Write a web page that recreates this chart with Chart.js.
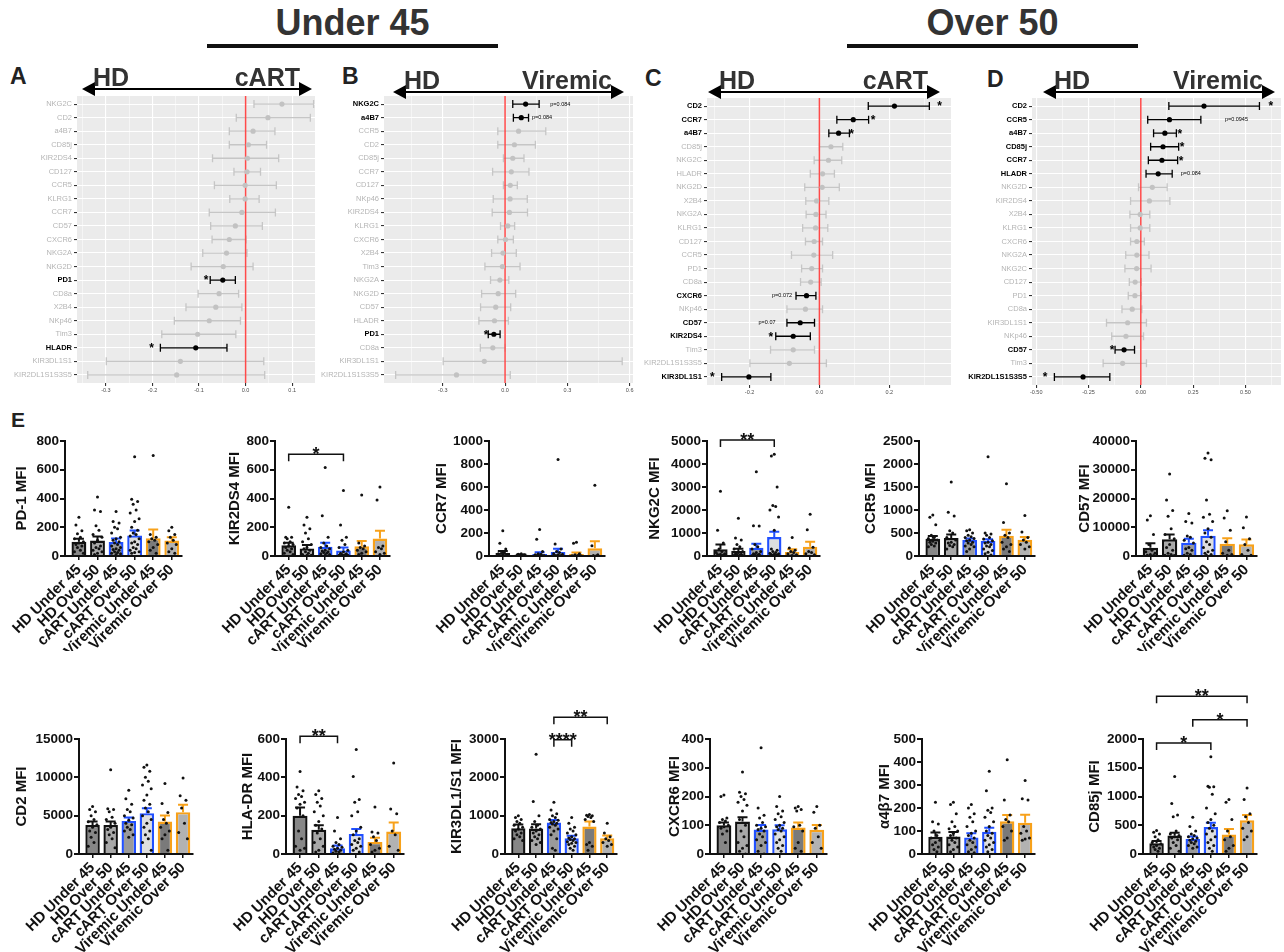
<!DOCTYPE html>
<html>
<head>
<meta charset="utf-8">
<script src="https://cdn.jsdelivr.net/npm/chart.js@4.4.1/dist/chart.umd.min.js"></script>
<style>
  body { margin: 0; background: #fff; font-family: "Liberation Sans", Arial, sans-serif; }
  #page { position: relative; width: 1284px; height: 952px; overflow: hidden; background: #fff; }
  .hdr { position: absolute; top: 2px; height: 42px; line-height: 42px; text-align: center;
         font-size: 36px; font-weight: bold; color: #333; border-bottom: 4px solid #111; }
  .lt { position: absolute; font-weight: bold; color: #222; font-size: 23px; line-height: 1; }
  canvas { position: absolute; }
</style>
</head>
<body>
<div id="page">
  <div class="hdr" style="left:207px;width:291px">Under 45</div>
  <div class="hdr" style="left:847px;width:291px">Over 50</div>
  <div class="lt" style="left:10px;top:65px">A</div>
  <div class="lt" style="left:342px;top:65px">B</div>
  <div class="lt" style="left:645px;top:67px">C</div>
  <div class="lt" style="left:987px;top:68px">D</div>
  <div class="lt" style="left:11px;top:409px;font-size:21px">E</div>
</div>
<script>
// ---- forest plots (A-D): estimate, lower, upper, annotations [row, text, x]
const aNames = ['NKG2C','CD2','a4B7','CD85j','KIR2DS4','CD127','CCR5','KLRG1','CCR7','CD57','CXCR6','NKG2A','NKG2D','PD1','CD8a','X2B4','NKp46','Tim3','HLADR','KIR3DL1S1','KIR2DL1S1S3S5'];
const aEst = [0.078,0.048,0.016,0.006,0.004,0.003,-0.001,-0.001,-0.008,-0.022,-0.035,-0.041,-0.048,-0.049,-0.057,-0.064,-0.078,-0.103,-0.107,-0.14,-0.148];
const aLo = [0.018,-0.02,-0.035,-0.035,-0.071,-0.025,-0.067,-0.034,-0.078,-0.075,-0.072,-0.092,-0.117,-0.076,-0.102,-0.128,-0.153,-0.18,-0.183,-0.299,-0.339];
const aHi = [0.146,0.139,0.063,0.045,0.071,0.032,0.066,0.029,0.064,0.036,0.001,0.003,0.016,-0.022,-0.015,-0.008,-0.011,-0.021,-0.04,0.039,0.041];
const aNotes = [[13,'*',-0.085],[18,'*',-0.202]];

const bNames = ['NKG2C','a4B7','CCR5','CD2','CD85j','CCR7','CD127','NKp46','KIR2DS4','KLRG1','CXCR6','X2B4','Tim3','NKG2A','NKG2D','CD57','HLADR','PD1','CD8a','KIR3DL1S1','KIR2DL1S1S3S5'];
const bEst = [0.099,0.078,0.065,0.045,0.037,0.03,0.025,0.024,0.021,0.013,0.002,-0.01,-0.013,-0.025,-0.033,-0.045,-0.051,-0.054,-0.059,-0.1,-0.234];
const bLo = [0.037,0.04,-0.035,-0.035,-0.008,-0.06,-0.008,-0.057,-0.062,-0.022,-0.035,-0.065,-0.097,-0.07,-0.113,-0.118,-0.126,-0.081,-0.119,-0.298,-0.527];
const bHi = [0.164,0.113,0.196,0.146,0.091,0.115,0.059,0.107,0.108,0.046,0.04,0.054,0.072,0.018,0.051,0.027,0.016,-0.024,0.0,0.564,0.025];
const bNotes = [[0,'p=0.084',0.266],[1,'p=0.084',0.178],[17,'*',-0.092]];

const cNames = ['CD2','CCR7','a4B7','CD85j','NKG2C','HLADR','NKG2D','X2B4','NKG2A','KLRG1','CD127','CCR5','PD1','CD8a','CXCR6','NKp46','CD57','KIR2DS4','Tim3','KIR2DL1S1S3S5','KIR3DL1S1'];
const cEst = [0.215,0.097,0.055,0.033,0.026,0.009,0.008,-0.008,-0.01,-0.011,-0.015,-0.016,-0.022,-0.025,-0.037,-0.04,-0.055,-0.075,-0.075,-0.086,-0.202];
const cLo = [0.14,0.05,0.027,0.0,-0.015,-0.026,-0.042,-0.039,-0.038,-0.048,-0.04,-0.08,-0.051,-0.054,-0.067,-0.093,-0.093,-0.125,-0.14,-0.199,-0.28];
const cHi = [0.315,0.141,0.086,0.067,0.064,0.043,0.057,0.027,0.019,0.024,0.009,0.038,0.009,0.005,-0.01,0.009,-0.014,-0.026,-0.014,0.02,-0.139];
const cNotes = [[0,'*',0.344],[1,'*',0.154],[2,'*',0.092],[14,'p=0.072',-0.107],[16,'p=0.07',-0.15],[17,'*',-0.139],[20,'*',-0.307]];

const dNames = ['CD2','CCR5','a4B7','CD85j','CCR7','HLADR','NKG2D','KIR2DS4','X2B4','KLRG1','CXCR6','NKG2A','NKG2C','CD127','PD1','CD8a','KIR3DL1S1','NKp46','CD57','Tim3','KIR2DL1S1S3S5'];
const dEst = [0.302,0.137,0.115,0.106,0.101,0.083,0.055,0.041,-0.003,-0.003,-0.019,-0.019,-0.02,-0.027,-0.028,-0.041,-0.063,-0.071,-0.08,-0.087,-0.276];
const dLo = [0.134,0.033,0.061,0.047,0.036,0.025,-0.011,-0.049,-0.052,-0.049,-0.049,-0.072,-0.076,-0.055,-0.06,-0.09,-0.164,-0.139,-0.123,-0.18,-0.413];
const dHi = [0.567,0.287,0.17,0.181,0.176,0.15,0.126,0.139,0.043,0.043,0.017,0.039,0.049,0.002,0.003,0.005,0.027,0.013,-0.03,0.027,-0.148];
const dNotes = [[0,'*',0.622],[1,'p=0.0945',0.457],[2,'*',0.186],[3,'*',0.197],[4,'*',0.192],[5,'p=0.084',0.239],[18,'*',-0.137],[20,'*',-0.457]];

// ---- panel E: mean, SEM, individual donors, brackets [from, to, height, label]
const groups = ['HD Under 45','HD Over 50','cART Under 45','cART Over 50','Viremic Under 45','Viremic Over 50'];

const pd1Mean = [100, 108, 97, 143, 124, 108];
const pd1Sem = [20, 28, 25, 34, 60, 23];
const pd1Dots = [
  [270,215,175,155,130,120,100,90,80,70,60,40,30,20],
  [410,320,310,210,180,150,130,110,90,70,60,50,40,30,20,10],
  [310,240,230,200,190,160,130,120,110,100,90,80,70,60,50,45,40,30,25,20,15,10],
  [690,395,380,360,320,300,260,240,200,180,160,150,140,120,100,90,80,60,50,40,30,25,20],
  [700,150,130,120,110,100,80,60,40,20],
  [200,175,150,130,110,90,80,50,30,20]
];

const kirdsMean = [74, 53, 65, 39, 67, 121];
const kirdsSem = [19, 24, 28, 21, 37, 55];
const kirdsDots = [
  [340,130,130,120,100,90,80,70,60,50,40,30,20,10],
  [270,215,190,160,120,100,80,60,50,40,30,20,10,5,5],
  [615,280,130,90,70,60,50,40,35,30,25,20,15,10,5],
  [455,215,130,110,80,60,40,30,20,15,10,8,5,5,3,2],
  [425,90,70,60,50,40,30,20,10],
  [480,390,70,60,50,30,20,10]
];
const kirdsSig = [[0, 3, 708, '*']];

const ccr7Mean = [26, 10, 17, 35, 17, 67];
const ccr7Sem = [18, 4, 15, 28, 13, 62];
const ccr7Dots = [
  [220,110,60,40,30,20,15,10,5,5,3,2],
  [20,15,10,8,5,5,3,2,1],
  [230,145,40,20,15,10,5,3,2,1],
  [840,105,60,40,30,20,15,10,5,5,3,2],
  [120,110,20,10,5,3,2],
  [615,90,10,5,2]
];

const nkg2cMean = [290, 217, 362, 826, 174, 406];
const nkg2cSem = [210, 100, 175, 230, 115, 215];
const nkg2cDots = [
  [2820,1120,560,300,200,150,100,80,60,40,20],
  [1640,780,700,500,400,300,200,150,100,80,60,40,20,10],
  [3660,1320,1300,500,400,300,200,150,100,80,60,40,20],
  [4420,4350,3000,2200,2150,2000,1700,1120,300,250,200,150,120,100,80,60,40,30,20,10],
  [800,350,250,200,150,100,50,20],
  [1820,1140,380,200,150,100,50]
];
const nkg2cSig = [[0, 3, 5040, '**']];

const ccr5Mean = [377, 391, 348, 326, 442, 355];
const ccr5Sem = [60, 75, 30, 40, 130, 60];
const ccr5Dots = [
  [890,840,680,450,400,380,350,320,300,280,250,220,200],
  [1610,950,870,550,500,400,350,300,280,250,230,200,150],
  [570,550,500,450,420,400,380,350,330,300,280,250,220,200,150,100],
  [2160,500,480,450,400,370,330,300,280,250,220,200,150,120,80,50,20],
  [1570,730,500,450,400,300,250,200,150,100],
  [880,520,400,350,300,250,200,150]
];

const cd57Mean = [2900, 5800, 4640, 7070, 4290, 4060];
const cd57Sem = [1500, 1700, 1400, 1850, 1850, 1700];
const cd57Dots = [
  [14000,12500,7500,4000,2000,1500,1000,500,300,200],
  [28500,19500,15800,13800,9500,7500,6000,4000,3000,2000,1000,500,300,200],
  [14800,12000,11500,7000,6500,5500,4500,3000,2500,2000,1000,500,300],
  [35800,34000,33500,19500,14500,13500,12000,9500,8000,6500,5000,4000,3000,2000,1500,1000,500,300],
  [15700,13200,9000,5000,2000,1000,500,300],
  [13600,9800,6000,4000,2000,500,300]
];

const cd2Mean = [3790, 3790, 4320, 5320, 4230, 5450];
const cd2Sem = [440, 440, 430, 650, 790, 960];
const cd2Dots = [
  [6200,5800,5500,5000,4500,4200,3800,3500,3000,2800,2200,1500,1000],
  [11000,5900,5800,5500,4800,4500,4000,3500,3200,2800,2500,2000,1500,800],
  [8300,7200,6500,5800,5500,5000,4700,4400,4000,3800,3500,3200,3000,2500,2200],
  [11600,11300,10800,10000,9500,9000,8500,7700,7000,6500,6000,5500,5000,4500,4000,3500,3000,2500,2000,1500,500],
  [9200,6600,5400,4500,4000,3500,3000,2500,2000,500],
  [9900,7600,7000,6000,4000,2800,2000]
];

const hladrMean = [200, 126, 30, 105, 63, 117];
const hladrSem = [42, 24, 14, 26, 22, 47];
const hladrDots = [
  [430,350,330,310,300,290,270,260,240,200,120,80,40,30,20],
  [330,310,290,270,250,220,200,170,150,130,110,80,60,40,20,10],
  [190,120,80,60,50,40,35,30,25,20,15,10,5],
  [545,405,285,270,220,200,140,120,100,80,70,60,50,40,30,20,10],
  [245,115,110,90,70,50,30,20,10],
  [475,235,210,120,100,40,20]
];
const hladrSig = [[0, 2, 614, '**']];

const kir3Mean = [671, 663, 820, 410, 715, 410];
const kir3Sem = [100, 110, 70, 65, 130, 75];
const kir3Dots = [
  [1000,950,900,850,800,750,700,650,600,550,500,450,400,350],
  [2600,1370,1000,850,750,700,650,600,550,500,450,400,350,300,250],
  [1350,1150,1050,1000,950,900,880,850,820,800,780,750,700,650,600,500,400,150,100],
  [950,800,700,650,600,550,500,450,420,400,380,350,320,300,280,250,200,150,100],
  [1030,1010,1000,980,950,900,850,300,250,200,100],
  [800,550,450,400,350,300,250,200]
];
const kir3Sig = [[2, 3, 2980, '****'], [2, 5, 3570, '**']];

const cxcr6Mean = [100, 113, 85, 86, 92, 84];
const cxcr6Sem = [10, 15, 16, 14, 18, 17];
const cxcr6Dots = [
  [205,200,125,120,115,110,100,95,90,80,70,40],
  [285,215,210,200,190,180,170,150,120,100,80,60,40,30,20,10,0],
  [370,160,135,125,110,100,95,90,85,80,70,60,50,40,30,10,0],
  [200,165,150,140,130,120,110,100,95,90,85,80,70,60,50,40,30,20,10],
  [165,160,155,150,100,95,80,40,20,10],
  [165,145,100,90,60,40,20]
];

const a4b7Mean = [75, 76, 72, 97, 142, 136];
const a4b7Sem = [18, 20, 18, 17, 28, 35];
const a4b7Dots = [
  [225,140,130,100,80,70,60,50,40,30,20,10],
  [225,215,175,140,120,110,100,90,80,70,60,50,40,30,20,10],
  [215,200,175,160,140,120,100,90,80,70,60,50,40,30,20,10,5],
  [360,275,200,190,180,160,140,120,100,90,80,70,60,50,40,30,20,10],
  [410,235,170,150,140,120,100,70,60],
  [320,240,235,120,100,90,70,65,60]
];

const cd85jMean = [187, 322, 263, 468, 339, 585];
const cd85jSem = [40, 46, 40, 76, 94, 93];
const cd85jDots = [
  [410,380,350,300,250,200,180,150,120,100,80,50],
  [1350,880,680,650,400,350,320,300,280,250,200,150,100,50],
  [640,480,400,350,320,300,280,260,240,220,200,180,150,120,100],
  [1690,1180,1170,1160,1040,800,700,600,550,500,450,400,350,300,250,200,150,100,50],
  [950,900,600,400,300,250,150,100,50],
  [1150,950,700,650,550,450,400,300,250]
];
const cd85jSig = [[0, 3, 1930, '*'], [2, 5, 2333, '*'], [0, 5, 2743, '**']];

// ---- styling
const FONT = "'Liberation Sans', Arial, sans-serif";
Chart.defaults.font.family = FONT;
const barFill = ['#878787', '#a8a8a8', '#9a9a9a', '#dedede', '#7a7a7a', '#b2b2b2'];
const barEdge = ['#111111', '#111111', '#2150ff', '#2150ff', '#f7a11a', '#f7a11a'];
const spread = [0, -0.16, 0.16, -0.08, 0.08, -0.24, 0.24];

function addCanvas(left, top, w, h) {
  const c = document.createElement('canvas');
  c.width = w; c.height = h;
  c.style.left = left + 'px'; c.style.top = top + 'px';
  c.style.width = w + 'px'; c.style.height = h + 'px';
  document.getElementById('page').appendChild(c);
  return c.getContext('2d');
}

function forestChart(p) {
  const n = p.names.length;
  const cl = p.left - 75, ct = p.top - 40;
  const ctx = addCanvas(cl, ct, 75 + (p.right - p.left) + 2, 40 + (p.bottom - p.top) + 16);
  const sigRows = p.notes.map(d => d[0]);
  const isSig = i => sigRows.includes(i);
  const isMajor = v => Math.abs(v / p.major - Math.round(v / p.major)) < 1e-6;
  const ticksX = [];
  for (let k = Math.ceil(p.min / p.minor - 1e-9); k * p.minor <= p.max + 1e-9; k++) ticksX.push(+(k * p.minor).toFixed(6));

  const deco = {
    id: 'deco',
    beforeDraw(chart) {
      const a = chart.chartArea, c = chart.ctx;
      c.save(); c.fillStyle = '#ebebeb'; c.fillRect(a.left, a.top, a.width, a.height); c.restore();
    },
    beforeDatasetsDraw(chart) {
      const c = chart.ctx, x = chart.scales.x, y = chart.scales.y, a = chart.chartArea;
      c.save();
      c.lineWidth = 1.3;
      p.est.forEach((v, i) => {
        const yy = y.getPixelForValue(i);
        const x1 = x.getPixelForValue(p.lo[i]), x2 = x.getPixelForValue(p.hi[i]);
        c.strokeStyle = isSig(i) ? '#000' : '#c6c6c6';
        c.beginPath();
        c.moveTo(x1, yy); c.lineTo(x2, yy);
        c.moveTo(x1, yy - 4); c.lineTo(x1, yy + 4);
        c.moveTo(x2, yy - 4); c.lineTo(x2, yy + 4);
        c.stroke();
      });
      const x0 = x.getPixelForValue(0);
      c.strokeStyle = '#ff4a4a'; c.lineWidth = 1.5;
      c.beginPath(); c.moveTo(x0, a.top); c.lineTo(x0, a.bottom); c.stroke();
      c.restore();
    },
    afterDraw(chart) {
      const c = chart.ctx, x = chart.scales.x, y = chart.scales.y;
      c.save();
      c.fillStyle = '#000'; c.textAlign = 'center'; c.textBaseline = 'middle';
      p.notes.forEach(([row, txt, xv]) => {
        const star = txt.startsWith('*');
        c.font = star ? 'bold 12px ' + FONT : '5.5px ' + FONT;
        c.fillText(txt, x.getPixelForValue(xv), y.getPixelForValue(row) + (star ? 1 : 0));
      });
      // direction arrow with group names
      const yA = p.arrowY - ct, xl = p.arrowL - cl, xr = p.arrowR - cl;
      c.strokeStyle = '#000'; c.lineWidth = 2;
      c.beginPath(); c.moveTo(xl + 10, yA); c.lineTo(xr - 10, yA); c.stroke();
      c.beginPath();
      c.moveTo(xl, yA); c.lineTo(xl + 13, yA - 7); c.lineTo(xl + 13, yA + 7); c.closePath();
      c.moveTo(xr, yA); c.lineTo(xr - 13, yA - 7); c.lineTo(xr - 13, yA + 7); c.closePath();
      c.fill();
      c.fillStyle = '#333'; c.font = 'bold 25px ' + FONT; c.textBaseline = 'alphabetic';
      c.textAlign = 'left'; c.fillText(p.leftText, xl + 11, yA - 3);
      c.textAlign = 'right'; c.fillText(p.rightText, xr - 12, yA - 3);
      c.restore();
    }
  };

  new Chart(ctx, {
    type: 'scatter',
    data: {
      datasets: [{
        data: p.est.map((v, i) => ({ x: v, y: i })),
        pointRadius: 2.6,
        pointBorderWidth: 0,
        pointBackgroundColor: p.est.map((v, i) => isSig(i) ? '#000' : '#c2c2c2')
      }]
    },
    options: {
      responsive: false, animation: false,
      layout: { padding: { top: 40, right: 2, left: 0, bottom: 0 } },
      plugins: { legend: { display: false }, tooltip: { enabled: false } },
      scales: {
        x: {
          type: 'linear', min: p.min, max: p.max,
          afterBuildTicks: s => { s.ticks = ticksX.map(v => ({ value: v })); },
          afterFit: s => { s.height = 16; },
          border: { display: false },
          grid: {
            color: '#fff', tickLength: 3,
            lineWidth: c => isMajor(c.tick.value) ? 1.1 : 0.5,
            tickColor: c => isMajor(c.tick.value) ? '#333' : 'rgba(0,0,0,0)'
          },
          ticks: {
            autoSkip: false, maxRotation: 0, padding: 1, color: '#4d4d4d',
            font: { size: 5.5 },
            callback: v => isMajor(v) ? v.toFixed(p.dec) : ''
          }
        },
        y: {
          type: 'linear', reverse: true, min: -0.6, max: n - 0.4,
          afterBuildTicks: s => { s.ticks = p.names.map((_, i) => ({ value: i })); },
          afterFit: s => { s.width = 75; },
          border: { display: false },
          grid: { color: '#fff', lineWidth: 1.1, tickColor: '#333', tickLength: 3 },
          ticks: {
            autoSkip: false, padding: 2,
            callback: (v, i) => p.names[i],
            color: c => isSig(c.index) ? '#000' : '#b5b5b5',
            font: c => ({ size: 7.5, weight: isSig(c.index) ? 'bold' : 'normal' })
          }
        }
      }
    },
    plugins: [deco]
  });
}

function dotPoints(dots) {
  const out = [];
  dots.forEach((vals, g) => {
    vals.slice().sort((a, b) => b - a).forEach((v, k) => out.push({ x: g + spread[k % spread.length], y: v }));
  });
  return out;
}

function barPanel(p) {
  const [ax, ae, yt, y0] = p.box;
  const cl = ax - 75, ct = yt - 65;
  const bottom = p.bottom;
  const ctx = addCanvas(cl, ct, 75 + (ae - ax) + 10, bottom - ct);

  const deco = {
    id: 'deco',
    afterDatasetDraw(chart, args) {
      if (args.index !== 0) return;
      const c = chart.ctx, y = chart.scales.y;
      c.save(); c.lineWidth = 2;
      chart.getDatasetMeta(0).data.forEach((bar, i) => {
        const top = y.getPixelForValue(p.mean[i] + p.sem[i]);
        c.strokeStyle = barEdge[i];
        c.beginPath();
        c.moveTo(bar.x, bar.y); c.lineTo(bar.x, top);
        c.moveTo(bar.x - 5, top); c.lineTo(bar.x + 5, top);
        c.stroke();
      });
      c.restore();
    },
    afterDraw(chart) {
      const c = chart.ctx, x = chart.scales.x, y = chart.scales.y, a = chart.chartArea;
      c.save();
      c.fillStyle = '#111'; c.font = 'bold 15px ' + FONT;
      c.translate(a.left - p.titleGap, (a.top + a.bottom) / 2);
      c.rotate(-Math.PI / 2);
      c.textAlign = 'center'; c.textBaseline = 'middle';
      c.fillText(p.title, 0, 0);
      c.restore();
      c.save();
      c.strokeStyle = '#111'; c.fillStyle = '#111'; c.lineWidth = 1.5;
      c.font = 'bold 18px ' + FONT; c.textAlign = 'center'; c.textBaseline = 'alphabetic';
      (p.sig || []).forEach(([g1, g2, h, label]) => {
        const x1 = x.getPixelForValue(g1), x2 = x.getPixelForValue(g2), yy = y.getPixelForValue(h);
        c.beginPath();
        c.moveTo(x1, yy + 7); c.lineTo(x1, yy); c.lineTo(x2, yy); c.lineTo(x2, yy + 7);
        c.stroke();
        c.fillText(label, (x1 + x2) / 2, yy + 6);
      });
      c.restore();
    }
  };

  new Chart(ctx, {
    type: 'bar',
    data: {
      datasets: [
        {
          type: 'bar', order: 2,
          data: p.mean.map((m, i) => ({ x: i, y: m })),
          backgroundColor: barFill, borderColor: barEdge, borderWidth: 2.4,
          barPercentage: 0.8, categoryPercentage: 1
        },
        {
          type: 'scatter', order: 1,
          data: dotPoints(p.dots),
          pointRadius: 1.5, pointBorderWidth: 0, pointBackgroundColor: '#111'
        }
      ]
    },
    options: {
      responsive: false, animation: false,
      layout: { padding: { top: 65, right: 10, left: 0, bottom: 0 } },
      plugins: { legend: { display: false }, tooltip: { enabled: false } },
      scales: {
        x: {
          type: 'linear', min: -0.75, max: 5.55, offset: false,
          afterBuildTicks: s => { s.ticks = groups.map((_, i) => ({ value: i })); },
          afterFit: s => { s.height = bottom - y0; },
          border: { color: '#111', width: 2 },
          grid: { display: true, drawOnChartArea: false, drawTicks: true, tickLength: 4, color: '#111', lineWidth: 1.5, offset: false },
          ticks: {
            autoSkip: false, minRotation: 45, maxRotation: 45, padding: 1, color: '#111',
            font: { size: 15, weight: 'bold' },
            callback: (v, i) => groups[i]
          }
        },
        y: {
          min: 0, max: p.max,
          afterFit: s => { s.width = 75; },
          border: { color: '#111', width: 2 },
          grid: { drawOnChartArea: false, tickLength: 5, color: '#111', lineWidth: 2 },
          ticks: { stepSize: p.step, padding: 1, color: '#111', font: { size: 13.5, weight: 'bold' }, callback: v => String(v) }
        }
      }
    },
    plugins: [deco]
  });
}

document.addEventListener('DOMContentLoaded', function () {
  forestChart({ names: aNames, est: aEst, lo: aLo, hi: aHi, notes: aNotes,
    left: 77, right: 317, top: 96, bottom: 383, min: -0.362, max: 0.149, major: 0.1, minor: 0.05, dec: 1,
    arrowL: 82, arrowR: 312, arrowY: 89, leftText: 'HD', rightText: 'cART' });
  forestChart({ names: bNames, est: bEst, lo: bLo, hi: bHi, notes: bNotes,
    left: 384, right: 635, top: 96, bottom: 383, min: -0.583, max: 0.616, major: 0.3, minor: 0.15, dec: 1,
    arrowL: 393, arrowR: 624, arrowY: 92, leftText: 'HD', rightText: 'Viremic' });
  forestChart({ names: cNames, est: cEst, lo: cLo, hi: cHi, notes: cNotes,
    left: 707, right: 953, top: 98, bottom: 385, min: -0.322, max: 0.377, major: 0.2, minor: 0.1, dec: 1,
    arrowL: 708, arrowR: 940, arrowY: 92, leftText: 'HD', rightText: 'cART' });
  forestChart({ names: dNames, est: dEst, lo: dLo, hi: dHi, notes: dNotes,
    left: 1032, right: 1283, top: 98, bottom: 385, min: -0.52, max: 0.67, major: 0.25, minor: 0.125, dec: 2,
    arrowL: 1043, arrowR: 1275, arrowY: 92, leftText: 'HD', rightText: 'Viremic' });

  const r1 = 651, r2 = 952;
  barPanel({ title: 'PD-1 MFI', mean: pd1Mean, sem: pd1Sem, dots: pd1Dots, max: 800, step: 200, box: [65, 182, 441, 556], bottom: r1, titleGap: 43 });
  barPanel({ title: 'KIR2DS4 MFI', mean: kirdsMean, sem: kirdsSem, dots: kirdsDots, sig: kirdsSig, max: 800, step: 200, box: [275, 390, 441, 556], bottom: r1, titleGap: 40 });
  barPanel({ title: 'CCR7 MFI', mean: ccr7Mean, sem: ccr7Sem, dots: ccr7Dots, max: 1000, step: 200, box: [489, 605, 441, 556], bottom: r1, titleGap: 47 });
  barPanel({ title: 'NKG2C MFI', mean: nkg2cMean, sem: nkg2cSem, dots: nkg2cDots, sig: nkg2cSig, max: 5000, step: 1000, box: [707, 820, 441, 556], bottom: r1, titleGap: 52 });
  barPanel({ title: 'CCR5 MFI', mean: ccr5Mean, sem: ccr5Sem, dots: ccr5Dots, max: 2500, step: 500, box: [919, 1035, 441, 556], bottom: r1, titleGap: 48 });
  barPanel({ title: 'CD57 MFI', mean: cd57Mean, sem: cd57Sem, dots: cd57Dots, max: 40000, step: 10000, box: [1136, 1257, 441, 556], bottom: r1, titleGap: 51 });

  barPanel({ title: 'CD2 MFI', mean: cd2Mean, sem: cd2Sem, dots: cd2Dots, max: 15000, step: 5000, box: [79, 193, 739, 854], bottom: r2, titleGap: 57 });
  barPanel({ title: 'HLA-DR MFI', mean: hladrMean, sem: hladrSem, dots: hladrDots, sig: hladrSig, max: 600, step: 200, box: [286, 404, 739, 854], bottom: r2, titleGap: 38 });
  barPanel({ title: 'KIR3DL1/S1 MFI', mean: kir3Mean, sem: kir3Sem, dots: kir3Dots, sig: kir3Sig, max: 3000, step: 1000, box: [505, 617, 739, 854], bottom: r2, titleGap: 48 });
  barPanel({ title: 'CXCR6 MFI', mean: cxcr6Mean, sem: cxcr6Sem, dots: cxcr6Dots, max: 400, step: 100, box: [710, 827, 739, 854], bottom: r2, titleGap: 35 });
  barPanel({ title: 'α4β7 MFI', mean: a4b7Mean, sem: a4b7Sem, dots: a4b7Dots, max: 500, step: 100, box: [922, 1035, 739, 854], bottom: r2, titleGap: 37 });
  barPanel({ title: 'CD85j MFI', mean: cd85jMean, sem: cd85jSem, dots: cd85jDots, sig: cd85jSig, max: 2000, step: 500, box: [1143, 1257, 739, 854], bottom: r2, titleGap: 48 });
});
</script>
</body>
</html>
